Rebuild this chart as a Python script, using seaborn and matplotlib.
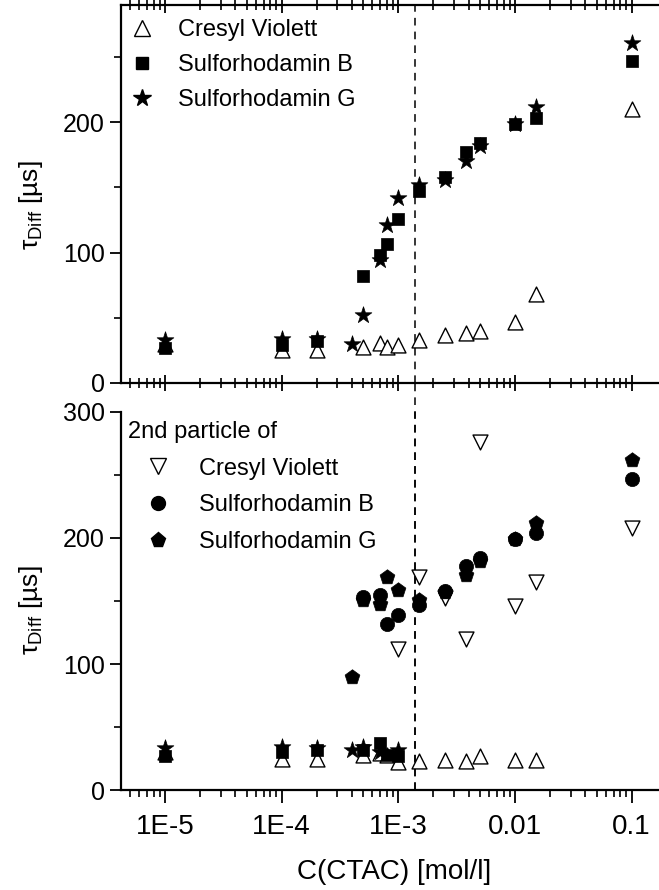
import numpy as np
import pandas as pd
import matplotlib
matplotlib.use("Agg")
import matplotlib.pyplot as plt
import matplotlib.ticker as mticker
from matplotlib.lines import Line2D
import seaborn as sns

# ---------------- data ----------------
# top panel (single-particle fits)
x_top_cv = [1e-5, 1e-4, 2e-4, 5e-4, 7e-4, 8e-4, 1e-3, 1.5e-3, 2.5e-3, 3.8e-3, 5e-3, 0.01, 0.015, 0.1]
y_top_cv = [30, 25, 25, 28, 31, 28, 29, 33, 37, 38, 40, 47, 68, 210]
x_top_srb = [1e-5, 1e-4, 2e-4, 5e-4, 7e-4, 8e-4, 1e-3, 1.5e-3, 2.5e-3, 3.8e-3, 5e-3, 0.01, 0.015, 0.1]
y_top_srb = [27, 29, 32, 82, 98, 107, 126, 147, 158, 177, 184, 199, 203, 247]
x_top_srg = [1e-5, 1e-4, 2e-4, 4e-4, 5e-4, 7e-4, 8e-4, 1e-3, 1.5e-3, 2.5e-3, 3.8e-3, 5e-3, 0.01, 0.015, 0.1]
y_top_srg = [33, 34, 34, 30, 52, 94, 121, 142, 152, 156, 170, 182, 199, 212, 261]

# bottom panel, first particle
x_bot_cv1 = [1e-5, 1e-4, 2e-4, 5e-4, 7e-4, 8e-4, 1e-3, 1.5e-3, 2.5e-3, 3.8e-3, 5e-3, 0.01, 0.015]
y_bot_cv1 = [30, 25, 25, 28, 29, 28, 22, 23, 24, 23, 27, 24, 24]
x_bot_srb1 = [1e-5, 1e-4, 2e-4, 5e-4, 7e-4, 8e-4, 1e-3]
y_bot_srb1 = [27, 30, 32, 32, 37, 28, 27]
x_bot_srg1 = [1e-5, 1e-4, 2e-4, 4e-4, 5e-4, 7e-4, 1e-3]
y_bot_srg1 = [33, 34, 33, 32, 34, 30, 32]

# bottom panel, second particle
x_cv2 = [1e-3, 1.5e-3, 2.5e-3, 3.8e-3, 5e-3, 0.01, 0.015, 0.1]
y_cv2 = [112, 169, 152, 120, 276, 146, 165, 208]
x_srb2 = [5e-4, 7e-4, 8e-4, 1e-3, 1.5e-3, 2.5e-3, 3.8e-3, 5e-3, 0.01, 0.015, 0.1]
y_srb2 = [153, 155, 132, 139, 147, 158, 178, 184, 199, 204, 247]
x_srg2 = [4e-4, 5e-4, 7e-4, 8e-4, 1e-3, 1.5e-3, 2.5e-3, 3.8e-3, 5e-3, 0.01, 0.015, 0.1]
y_srg2 = [90, 151, 148, 169, 159, 151, 157, 171, 182, 199, 212, 262]

cmc = 1.4e-3
xtick_vals = [1e-5, 1e-4, 1e-3, 1e-2, 1e-1]
xtick_labels = ["1E-5", "1E-4", "1E-3", "0.01", "0.1"]
names = ["Cresyl Violett", "Sulforhodamin B", "Sulforhodamin G"]

# ---------------- style ----------------
sns.set_style("ticks")
plt.rcParams["font.family"] = ["Liberation Sans", "DejaVu Sans"]
plt.rcParams["mathtext.fontset"] = "custom"
plt.rcParams["mathtext.rm"] = "Liberation Sans"
plt.rcParams["mathtext.it"] = "Liberation Sans:italic"
for key in ("text.color", "axes.labelcolor", "xtick.color", "ytick.color",
            "axes.edgecolor"):
    plt.rcParams[key] = "black"

W, H = 659, 890
fig = plt.figure(figsize=(W / 100, H / 100), dpi=100)
left = 121 / W
right_px = 666.8
width = (right_px - 121) / W
ax1 = fig.add_axes([left, 1 - 383 / H, width, (383 - 5) / H])
ax2 = fig.add_axes([left, 1 - 790 / H, width, (790 - 412) / H])

open_kw = dict(facecolor="white", edgecolor="black", linewidth=1.0)
fill_kw = dict(color="black", edgecolor="black", linewidth=0.5)

def sc(ax, x, y, marker, kw, s):
    df = pd.DataFrame({"x": x, "y": y})
    sns.scatterplot(data=df, x="x", y="y", marker=marker, s=s, ax=ax,
                    zorder=3, legend=False, **kw)

# top panel
sc(ax1, x_top_cv, y_top_cv, "^", open_kw, 115)
sc(ax1, x_top_srb, y_top_srb, "s", fill_kw, 85)
sc(ax1, x_top_srg, y_top_srg, "*", fill_kw, 160)

# bottom panel
sc(ax2, x_bot_cv1, y_bot_cv1, "^", open_kw, 115)
sc(ax2, x_bot_srb1, y_bot_srb1, "s", fill_kw, 85)
sc(ax2, x_bot_srg1, y_bot_srg1, "*", fill_kw, 160)
sc(ax2, x_cv2, y_cv2, "v", open_kw, 115)
sc(ax2, x_srb2, y_srb2, "o", fill_kw, 105)
sc(ax2, x_srg2, y_srg2, "p", fill_kw, 125)

for ax, ylc in ((ax1, 0.47), (ax2, 0.476)):
    ax.set_xscale("log")
    ax.set_xlim(4.2e-6, 0.2)
    ax.xaxis.set_major_locator(mticker.FixedLocator(xtick_vals))
    ax.xaxis.set_minor_locator(mticker.LogLocator(base=10, subs=np.arange(2, 10), numticks=20))
    ax.yaxis.set_major_locator(mticker.MultipleLocator(100))
    ax.yaxis.set_minor_locator(mticker.MultipleLocator(50))
    ax.set_xlabel("")
    ax.set_ylabel("τ$_{\\mathrm{Diff}}$ [µs]", fontsize=19)
    ax.yaxis.set_label_coords(-0.139, ylc)
    for sp in ax.spines.values():
        sp.set_linewidth(1.6)
        sp.set_color("black")
    ax.tick_params(axis="y", which="major", direction="out", length=8, width=1.3,
                   labelsize=18, colors="black")
    ax.tick_params(axis="y", which="minor", direction="out", length=5, width=1.2)
    ax.axvline(cmc, color="black", ls=(0, (5, 4)), lw=1.1, zorder=1)

ax1.set_ylim(0, 290)
ax2.set_ylim(0, 300)

ax1.spines["right"].set_visible(False)
ax2.spines["right"].set_visible(False)
ax2.spines["top"].set_visible(False)

ax1.tick_params(axis="x", which="major", direction="inout", length=12, width=1.3,
                top=True, labelbottom=False)
ax1.tick_params(axis="x", which="minor", direction="inout", length=7, width=1.2, top=True)
ax2.tick_params(axis="x", which="major", direction="out", length=9, width=1.3,
                labelsize=20, pad=8, colors="black")
ax2.tick_params(axis="x", which="minor", direction="out", length=5, width=1.2)
ax2.set_xticklabels(xtick_labels)
ax1.set_yticks([0, 100, 200])
ax2.set_yticks([0, 100, 200, 300])

# dashed line through the gap between the panels
ax2.axvline(cmc, ymin=0, ymax=(790 - 383) / 378, color="black", ls=(0, (5, 4)),
            lw=1.1, zorder=1, clip_on=False)

ax2.set_xlabel("C(CTAC) [mol/l]", fontsize=20, labelpad=14)

# legends
h_top = [
    Line2D([], [], ls="none", marker="^", ms=11, mfc="white", mec="black", mew=1.0),
    Line2D([], [], ls="none", marker="s", ms=9, mfc="black", mec="black"),
    Line2D([], [], ls="none", marker="*", ms=13, mfc="black", mec="black"),
]
leg1 = ax1.legend(h_top, names, loc="upper left", bbox_to_anchor=(0.0, 0.987),
                  frameon=False, fontsize=17, handlelength=1.0, handletextpad=1.0,
                  labelspacing=0.55, borderaxespad=0.2, borderpad=0.2,
                  labelcolor="black")

h_bot = [
    Line2D([], [], ls="none", marker="v", ms=11, mfc="white", mec="black", mew=1.0),
    Line2D([], [], ls="none", marker="o", ms=10, mfc="black", mec="black"),
    Line2D([], [], ls="none", marker="p", ms=11, mfc="black", mec="black"),
]
leg2 = ax2.legend(h_bot, names, loc="upper left", bbox_to_anchor=(0.0, 0.995),
                  frameon=False, fontsize=17, title="2nd particle of",
                  title_fontsize=17, alignment="left", handlelength=2.5,
                  handletextpad=0.5, labelspacing=0.62, borderaxespad=0.1,
                  borderpad=0.2, labelcolor="black")

fig.savefig("out.png", dpi=100)
